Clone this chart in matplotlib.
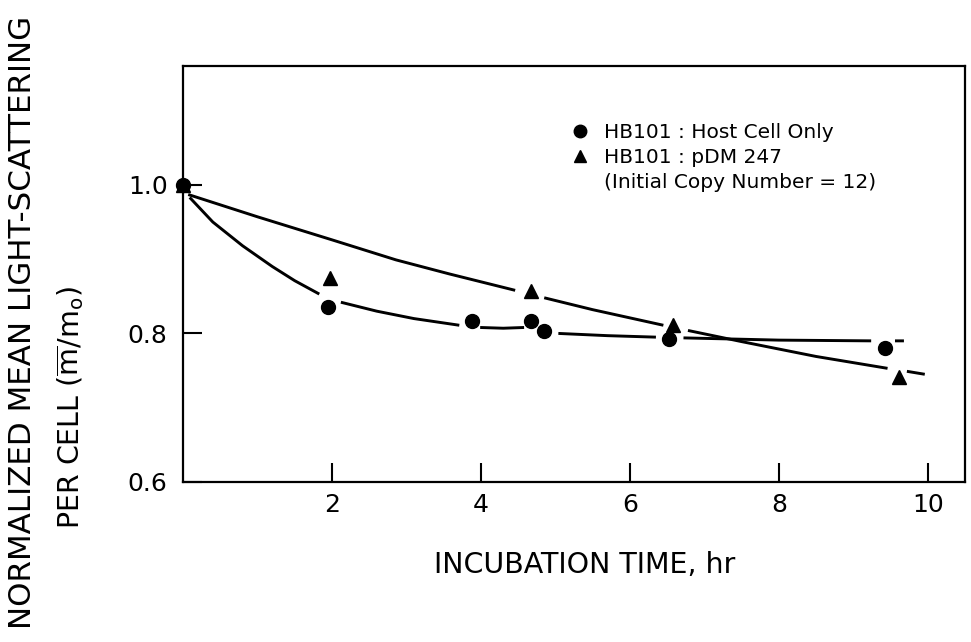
import numpy as np
import matplotlib
matplotlib.use("Agg")
import matplotlib.pyplot as plt

# ---- data ----
host_time = [0.0, 1.95, 3.88, 4.67, 4.85, 6.52, 9.42]
host_value = [1.0, 0.836, 0.817, 0.817, 0.803, 0.792, 0.780]

pdm_time = [0.0, 1.97, 4.67, 6.58, 9.61]
pdm_value = [1.0, 0.875, 0.857, 0.812, 0.742]

# hand-drawn fitted curves (NaN = gap around a marker)
host_curve_t = [0.09, 0.4, 0.8, 1.2, 1.5, 1.83, np.nan,
                2.12, 2.6, 3.1, 3.71, np.nan,
                3.99, 4.3, 4.58, np.nan,
                5.04, 5.7, 6.35, np.nan,
                6.72, 8.0, 9.24, np.nan,
                9.56, 9.68]
host_curve_v = [0.983, 0.950, 0.918, 0.890, 0.871, 0.853, np.nan,
                0.842, 0.830, 0.820, 0.811, np.nan,
                0.808, 0.807, 0.808, np.nan,
                0.800, 0.797, 0.795, np.nan,
                0.794, 0.791, 0.790, np.nan,
                0.790, 0.790]

pdm_curve_t = [0.07, 1.0, 2.0, 2.86, 3.58, 4.46, np.nan,
               4.85, 5.5, 6.45, np.nan,
               6.78, 7.5, 8.5, 9.46, np.nan,
               9.72, 9.96]
pdm_curve_v = [0.987, 0.957, 0.926, 0.899, 0.880, 0.858, np.nan,
               0.848, 0.832, 0.811, np.nan,
               0.804, 0.789, 0.769, 0.753, np.nan,
               0.749, 0.745]

x_ticks = [2, 4, 6, 8, 10]
x_tick_labels = ["2", "4", "6", "8", "10"]
y_ticks = [0.6, 0.8, 1.0]
y_tick_labels = ["0.6", "0.8", "1.0"]

legend_labels = ["HB101 : Host Cell Only", "HB101 : pDM 247", "(Initial Copy Number = 12)"]

plt.rcParams['font.family'] = ['DejaVu Sans']
plt.rcParams['mathtext.fontset'] = 'dejavusans'

fig = plt.figure(figsize=(9.71, 6.42), dpi=100)
ax = fig.add_axes([183/971, 1-482/642, (965-183)/971, (482-66)/642])

ax.plot(host_curve_t, host_curve_v, color='black', lw=2.1, solid_capstyle='butt')
ax.plot(pdm_curve_t, pdm_curve_v, color='black', lw=2.1, solid_capstyle='butt')

h1, = ax.plot(host_time, host_value, linestyle='none', marker='o', ms=10,
              color='black', clip_on=False, zorder=5)
h2, = ax.plot(pdm_time, pdm_value, linestyle='none', marker='^', ms=10,
              color='black', clip_on=False, zorder=5)
h3, = ax.plot([], [], linestyle='none', marker='none')

ax.set_xlim(0, 10.5)
ax.set_ylim(0.6, 1.16)
ax.set_xticks(x_ticks)
ax.set_xticklabels(x_tick_labels)
ax.set_yticks(y_ticks)
ax.set_yticklabels(y_tick_labels)
ax.tick_params(direction='in', length=14, width=1.5, labelsize=18, pad=8)
ax.tick_params(axis='y', pad=11)
for sp in ax.spines.values():
    sp.set_linewidth(1.6)

ax.legend([h1, h2, h3], legend_labels, loc='upper left',
          bbox_to_anchor=((571-183)/782, 1-(123-66)/416), frameon=False,
          fontsize=14.5, borderpad=0, borderaxespad=0, handlelength=0.9,
          handletextpad=0.75, labelspacing=0.3, numpoints=1, markerscale=0.9)

fig.text(585/971, 1-565/642, "INCUBATION TIME, hr", ha='center', va='center', fontsize=20.5)
fig.text(23/971, 1-322/642, "NORMALIZED MEAN LIGHT-SCATTERING", rotation=90,
         ha='center', va='center', fontsize=22.3)
fig.text(70/971, 1-407/642, r"PER CELL $(\overline{\mathrm{m}}/\mathrm{m}_\mathrm{o})$",
         rotation=90, ha='center', va='center', fontsize=20.5)

fig.savefig("out.png", dpi=100)
